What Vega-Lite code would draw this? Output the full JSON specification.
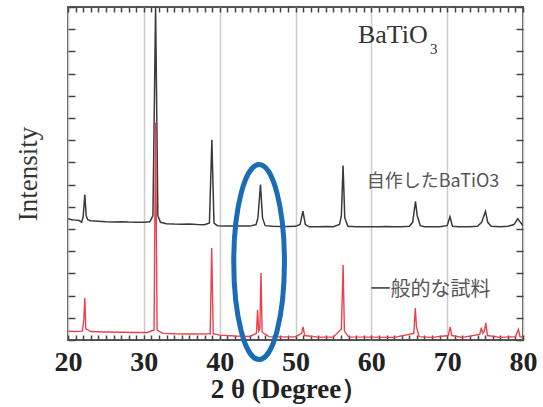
{
  "$schema": "https://vega.github.io/schema/vega-lite/v6.json",
  "width": 455,
  "height": 333,
  "autosize": "none",
  "padding": {"left": 68, "top": 7, "right": 20, "bottom": 67},
  "background": "white",
  "config": {
    "view": {"stroke": "#555555", "strokeWidth": 2},
    "axis": {"domain": false}
  },
  "resolve": {"axis": {"x": "independent", "y": "independent"}},
  "datasets": {
    "black": [
      {"angle": 20.0, "intensity": 5.46}, {"angle": 20.5, "intensity": 5.42}, {"angle": 21.0, "intensity": 5.40},
      {"angle": 21.5, "intensity": 5.38}, {"angle": 21.8, "intensity": 5.30}, {"angle": 22.0, "intensity": 5.55},
      {"angle": 22.22, "intensity": 6.55}, {"angle": 22.4, "intensity": 5.6}, {"angle": 22.6, "intensity": 5.42},
      {"angle": 23.0, "intensity": 5.37}, {"angle": 24.0, "intensity": 5.35}, {"angle": 25.0, "intensity": 5.33},
      {"angle": 26.0, "intensity": 5.32}, {"angle": 27.0, "intensity": 5.33}, {"angle": 28.0, "intensity": 5.31},
      {"angle": 29.0, "intensity": 5.30}, {"angle": 30.0, "intensity": 5.30}, {"angle": 30.8, "intensity": 5.33},
      {"angle": 31.2, "intensity": 5.6}, {"angle": 31.55, "intensity": 15}, {"angle": 31.85, "intensity": 5.6},
      {"angle": 32.2, "intensity": 5.30}, {"angle": 33.0, "intensity": 5.24}, {"angle": 34.0, "intensity": 5.22},
      {"angle": 35.0, "intensity": 5.21}, {"angle": 36.0, "intensity": 5.22}, {"angle": 37.0, "intensity": 5.20},
      {"angle": 38.0, "intensity": 5.19}, {"angle": 38.65, "intensity": 5.27}, {"angle": 38.97, "intensity": 9.02},
      {"angle": 39.25, "intensity": 5.27}, {"angle": 39.7, "intensity": 5.15}, {"angle": 41.0, "intensity": 5.13},
      {"angle": 42.0, "intensity": 5.14}, {"angle": 43.0, "intensity": 5.13}, {"angle": 44.0, "intensity": 5.13},
      {"angle": 44.8, "intensity": 5.2}, {"angle": 45.05, "intensity": 5.5}, {"angle": 45.38, "intensity": 7.0},
      {"angle": 45.65, "intensity": 5.5}, {"angle": 46.0, "intensity": 5.15}, {"angle": 47.0, "intensity": 5.12},
      {"angle": 48.0, "intensity": 5.11}, {"angle": 49.0, "intensity": 5.11}, {"angle": 50.0, "intensity": 5.12},
      {"angle": 50.6, "intensity": 5.2}, {"angle": 50.98, "intensity": 5.8}, {"angle": 51.3, "intensity": 5.2},
      {"angle": 51.8, "intensity": 5.1}, {"angle": 53.0, "intensity": 5.10}, {"angle": 54.0, "intensity": 5.11},
      {"angle": 55.0, "intensity": 5.10}, {"angle": 55.8, "intensity": 5.2}, {"angle": 56.05, "intensity": 5.6},
      {"angle": 56.27, "intensity": 7.86}, {"angle": 56.5, "intensity": 5.5}, {"angle": 56.9, "intensity": 5.12},
      {"angle": 58.0, "intensity": 5.10}, {"angle": 59.0, "intensity": 5.10}, {"angle": 60.0, "intensity": 5.10},
      {"angle": 61.0, "intensity": 5.10}, {"angle": 62.0, "intensity": 5.11}, {"angle": 63.0, "intensity": 5.10},
      {"angle": 64.0, "intensity": 5.10}, {"angle": 65.0, "intensity": 5.12}, {"angle": 65.45, "intensity": 5.3},
      {"angle": 65.82, "intensity": 6.25}, {"angle": 66.05, "intensity": 5.6}, {"angle": 66.45, "intensity": 5.15},
      {"angle": 67.0, "intensity": 5.10}, {"angle": 68.0, "intensity": 5.10}, {"angle": 69.0, "intensity": 5.10},
      {"angle": 70.0, "intensity": 5.15}, {"angle": 70.37, "intensity": 5.55}, {"angle": 70.7, "intensity": 5.12},
      {"angle": 71.5, "intensity": 5.10}, {"angle": 72.0, "intensity": 5.10}, {"angle": 73.0, "intensity": 5.10},
      {"angle": 74.0, "intensity": 5.12}, {"angle": 74.55, "intensity": 5.3}, {"angle": 75.05, "intensity": 5.8},
      {"angle": 75.35, "intensity": 5.3}, {"angle": 75.8, "intensity": 5.12}, {"angle": 77.0, "intensity": 5.10},
      {"angle": 78.0, "intensity": 5.12}, {"angle": 78.8, "intensity": 5.2}, {"angle": 79.3, "intensity": 5.46},
      {"angle": 79.65, "intensity": 5.3}, {"angle": 80.0, "intensity": 5.15}
    ],
    "red": [
      {"angle": 20.0, "intensity": 0.40}, {"angle": 21.0, "intensity": 0.38}, {"angle": 21.9, "intensity": 0.40},
      {"angle": 22.08, "intensity": 0.9}, {"angle": 22.22, "intensity": 1.89}, {"angle": 22.35, "intensity": 0.5},
      {"angle": 23.0, "intensity": 0.38}, {"angle": 25.0, "intensity": 0.36}, {"angle": 27.0, "intensity": 0.35},
      {"angle": 29.0, "intensity": 0.34}, {"angle": 30.5, "intensity": 0.34}, {"angle": 31.35, "intensity": 0.45},
      {"angle": 31.55, "intensity": 9.8}, {"angle": 31.75, "intensity": 0.45}, {"angle": 32.5, "intensity": 0.30},
      {"angle": 34.0, "intensity": 0.28}, {"angle": 36.0, "intensity": 0.27}, {"angle": 38.75, "intensity": 0.28},
      {"angle": 38.95, "intensity": 4.14}, {"angle": 39.15, "intensity": 0.28}, {"angle": 40.0, "intensity": 0.22},
      {"angle": 42.0, "intensity": 0.18}, {"angle": 44.0, "intensity": 0.16}, {"angle": 44.85, "intensity": 0.3},
      {"angle": 45.0, "intensity": 1.35}, {"angle": 45.15, "intensity": 0.4}, {"angle": 45.3, "intensity": 0.5},
      {"angle": 45.45, "intensity": 3.02}, {"angle": 45.6, "intensity": 0.35}, {"angle": 46.5, "intensity": 0.15},
      {"angle": 48.0, "intensity": 0.14}, {"angle": 50.0, "intensity": 0.14}, {"angle": 50.8, "intensity": 0.3},
      {"angle": 51.0, "intensity": 0.59}, {"angle": 51.2, "intensity": 0.2}, {"angle": 53.0, "intensity": 0.13},
      {"angle": 55.0, "intensity": 0.13}, {"angle": 56.05, "intensity": 0.5}, {"angle": 56.28, "intensity": 3.38},
      {"angle": 56.45, "intensity": 0.4}, {"angle": 57.0, "intensity": 0.14}, {"angle": 60.0, "intensity": 0.13},
      {"angle": 63.0, "intensity": 0.12}, {"angle": 65.6, "intensity": 0.3}, {"angle": 65.8, "intensity": 1.44},
      {"angle": 65.95, "intensity": 0.6}, {"angle": 66.3, "intensity": 0.15}, {"angle": 68.0, "intensity": 0.12},
      {"angle": 70.15, "intensity": 0.2}, {"angle": 70.4, "intensity": 0.59}, {"angle": 70.6, "intensity": 0.2},
      {"angle": 72.0, "intensity": 0.12}, {"angle": 74.3, "intensity": 0.25}, {"angle": 74.5, "intensity": 0.56},
      {"angle": 74.7, "intensity": 0.3}, {"angle": 74.9, "intensity": 0.4}, {"angle": 75.1, "intensity": 0.77},
      {"angle": 75.3, "intensity": 0.2}, {"angle": 77.0, "intensity": 0.12}, {"angle": 79.0, "intensity": 0.15},
      {"angle": 79.4, "intensity": 0.48}, {"angle": 79.6, "intensity": 0.15}, {"angle": 80.0, "intensity": 0.12}
    ]
  },
  "layer": [
    {
      "data": {"name": "black"},
      "mark": {"type": "line", "color": "#3a3a3a", "strokeWidth": 1.5, "clip": true},
      "encoding": {
        "x": {
          "field": "angle", "type": "quantitative",
          "scale": {"domain": [20, 80], "nice": false, "zero": false},
          "axis": {
            "orient": "bottom",
            "values": [20,21,22,23,24,25,26,27,28,29,30,31,32,33,34,35,36,37,38,39,40,41,42,43,44,45,46,47,48,49,50,51,52,53,54,55,56,57,58,59,60,61,62,63,64,65,66,67,68,69,70,71,72,73,74,75,76,77,78,79,80],
            "labelExpr": "datum.value % 10 === 0 ? datum.label : ''",
            "labelFont": "Liberation Serif", "labelFontWeight": "bold", "labelFontSize": 28, "labelColor": "#222222",
            "labelPadding": 13, "labelOverlap": false, "labelFlush": false,
            "tickSize": -5, "tickColor": "#444444", "tickWidth": 1.5,
            "grid": true, "gridColor": "#cccccc", "gridWidth": 1.5,
            "gridOpacity": {"condition": {"test": "datum.value % 10 === 0", "value": 1}, "value": 0},
            "title": "2 θ (Degree）", "titleX": 221,
            "titleFont": "Liberation Serif", "titleFontWeight": "bold", "titleFontSize": 27, "titleColor": "#222222",
            "titlePadding": 0
          }
        },
        "y": {
          "field": "intensity", "type": "quantitative",
          "scale": {"domain": [0, 15], "nice": false, "zero": false},
          "axis": {
            "orient": "left",
            "values": [0,1,2,3,4,5,6,7,8,9,10,11,12,13,14,15],
            "labels": false, "tickSize": -7, "tickColor": "#444444", "tickWidth": 1.5, "grid": false,
            "title": "Intensity",
            "titleFont": "Liberation Serif", "titleFontWeight": "normal", "titleFontSize": 27, "titleColor": "#333333",
            "titlePadding": 25
          }
        }
      }
    },
    {
      "data": {"name": "red"},
      "mark": {"type": "line", "color": "#e8424c", "strokeWidth": 1.4, "clip": true},
      "encoding": {
        "x": {
          "field": "angle", "type": "quantitative", "scale": {"domain": [20, 80], "nice": false, "zero": false},
          "axis": {
            "orient": "top",
            "values": [20,21,22,23,24,25,26,27,28,29,30,31,32,33,34,35,36,37,38,39,40,41,42,43,44,45,46,47,48,49,50,51,52,53,54,55,56,57,58,59,60,61,62,63,64,65,66,67,68,69,70,71,72,73,74,75,76,77,78,79,80],
            "labels": false, "tickSize": -5, "tickColor": "#444444", "tickWidth": 1.5, "grid": false, "title": null
          }
        },
        "y": {
          "field": "intensity", "type": "quantitative", "scale": {"domain": [0, 15], "nice": false, "zero": false},
          "axis": {
            "orient": "right",
            "values": [0,1,2,3,4,5,6,7,8,9,10,11,12,13,14,15],
            "labels": false, "tickSize": -7, "tickColor": "#444444", "tickWidth": 1.5, "grid": false, "title": null
          }
        }
      }
    },
    {
      "data": {"values": [{"angle": 45.2, "intensity": 3.51}]},
      "mark": {
        "type": "point",
        "shape": "M0,-1C0.1436,-1,0.26,-0.5523,0.26,0C0.26,0.5523,0.1436,1,0,1C-0.1436,1,-0.26,0.5523,-0.26,0C-0.26,-0.5523,-0.1436,-1,0,-1Z",
        "size": 38025, "filled": false, "stroke": "#1a6db5", "strokeWidth": 5, "opacity": 1
      },
      "encoding": {
        "x": {"field": "angle", "type": "quantitative", "scale": {"domain": [20, 80], "nice": false, "zero": false}, "axis": null},
        "y": {"field": "intensity", "type": "quantitative", "scale": {"domain": [0, 15], "nice": false, "zero": false}, "axis": null}
      }
    },
    {
      "data": {"values": [{"angle": 58.24, "intensity": 13.38, "label": "BaTiO"}]},
      "mark": {"type": "text", "font": "Liberation Serif", "fontSize": 26, "color": "#333333", "align": "left", "baseline": "alphabetic"},
      "encoding": {
        "x": {"field": "angle", "type": "quantitative", "scale": {"domain": [20, 80], "nice": false, "zero": false}, "axis": null},
        "y": {"field": "intensity", "type": "quantitative", "scale": {"domain": [0, 15], "nice": false, "zero": false}, "axis": null},
        "text": {"field": "label"}
      }
    },
    {
      "data": {"values": [{"angle": 67.75, "intensity": 12.9, "label": "3"}]},
      "mark": {"type": "text", "font": "Liberation Serif", "fontSize": 15, "color": "#333333", "align": "left", "baseline": "alphabetic"},
      "encoding": {
        "x": {"field": "angle", "type": "quantitative", "scale": {"domain": [20, 80], "nice": false, "zero": false}, "axis": null},
        "y": {"field": "intensity", "type": "quantitative", "scale": {"domain": [0, 15], "nice": false, "zero": false}, "axis": null},
        "text": {"field": "label"}
      }
    },
    {
      "data": {"values": [{"angle": 59.4, "intensity": 7.1, "label": "自作したBaTiO3"}]},
      "mark": {"type": "text", "font": "Noto Sans CJK JP", "fontSize": 18, "color": "#555555", "align": "left", "baseline": "middle"},
      "encoding": {
        "x": {"field": "angle", "type": "quantitative", "scale": {"domain": [20, 80], "nice": false, "zero": false}, "axis": null},
        "y": {"field": "intensity", "type": "quantitative", "scale": {"domain": [0, 15], "nice": false, "zero": false}, "axis": null},
        "text": {"field": "label"}
      }
    },
    {
      "data": {"values": [{"angle": 59.9, "intensity": 2.25, "label": "一般的な試料"}]},
      "mark": {"type": "text", "font": "Noto Sans CJK JP", "fontSize": 20, "color": "#555555", "align": "left", "baseline": "middle"},
      "encoding": {
        "x": {"field": "angle", "type": "quantitative", "scale": {"domain": [20, 80], "nice": false, "zero": false}, "axis": null},
        "y": {"field": "intensity", "type": "quantitative", "scale": {"domain": [0, 15], "nice": false, "zero": false}, "axis": null},
        "text": {"field": "label"}
      }
    }
  ]
}
